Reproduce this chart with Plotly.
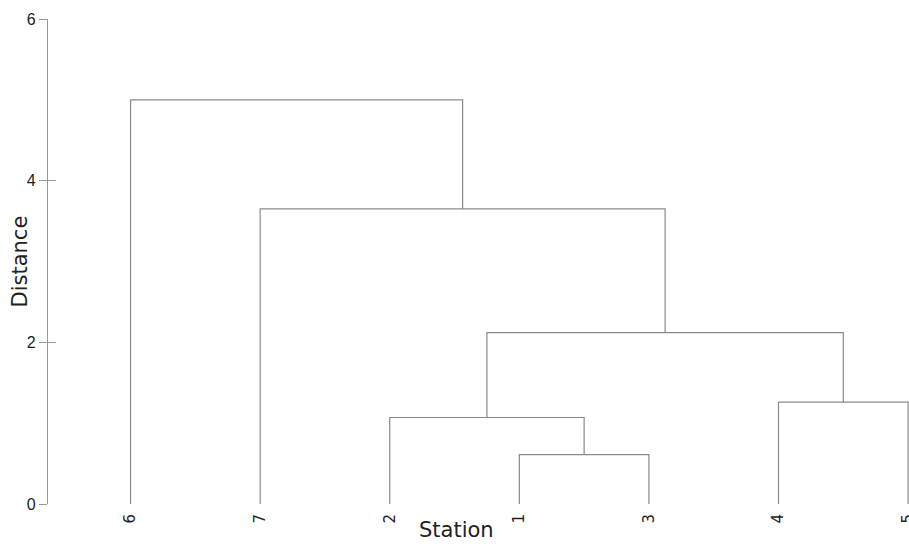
import plotly.graph_objects as go

# Leaves in display order
leaf_labels = ["6", "7", "2", "1", "3", "4", "5"]
# Merges: (left child, right child, height); children are leaf labels or merge ids "m0", "m1", ...
merge_left = ["1", "4", "2", "m2", "7", "6"]
merge_right = ["3", "5", "m0", "m1", "m3", "m4"]
merge_height = [0.61, 1.26, 1.07, 2.12, 3.65, 5.0]

y_ticks = [0, 2, 4, 6]

leaf_pos = {lab: i for i, lab in enumerate(leaf_labels)}
node_x = dict(leaf_pos)
node_y = {lab: 0.0 for lab in leaf_labels}

xs, ys = [], []
for k, (a, b, h) in enumerate(zip(merge_left, merge_right, merge_height)):
    xa, ya = node_x[a], node_y[a]
    xb, yb = node_x[b], node_y[b]
    xs += [xa, xa, xb, xb, None]
    ys += [ya, h, h, yb, None]
    node_x["m%d" % k] = (xa + xb) / 2
    node_y["m%d" % k] = h

line_color = "#8a8a8a"
text_color = "#222"

fig = go.Figure()
fig.add_trace(go.Scatter(x=xs, y=ys, mode="lines",
                         line=dict(color=line_color, width=1.2),
                         hoverinfo="skip", showlegend=False))
# invisible trace on overlaying axis for inside tick marks
fig.add_trace(go.Scatter(x=[0], y=[0], mode="markers", marker=dict(opacity=0),
                         yaxis="y2", hoverinfo="skip", showlegend=False))

fig.update_layout(
    width=909, height=544,
    margin=dict(l=48, r=0, t=19, b=40),
    paper_bgcolor="white", plot_bgcolor="white",
    font=dict(family="DejaVu Sans", color=text_color),
    xaxis=dict(
        range=[-0.637, 6.007],
        tickmode="array",
        tickvals=list(range(len(leaf_labels))),
        ticktext=leaf_labels,
        tickangle=-90,
        ticks="outside", ticklen=3, tickcolor="rgba(0,0,0,0)",
        showgrid=False, zeroline=False, showline=False,
        tickfont=dict(family="DejaVu Sans", size=15, color=text_color),
        ticklabeloverflow="allow",
        automargin=False,
    ),
    yaxis=dict(
        range=[0, 6],
        tickmode="array",
        tickvals=y_ticks,
        ticktext=[str(v) for v in y_ticks],
        ticks="outside", ticklen=8, tickcolor="#999", tickwidth=1,
        showline=True, linecolor="#999", linewidth=1.2,
        showgrid=False, zeroline=False,
        tickfont=dict(family="Liberation Sans", size=16, color=text_color),
        automargin=False,
    ),
    yaxis2=dict(
        range=[0, 6], overlaying="y", side="left",
        tickmode="array", tickvals=y_ticks, showticklabels=False,
        ticks="inside", ticklen=8, tickcolor="#999", tickwidth=1,
        showline=False, showgrid=False, zeroline=False,
    ),
    annotations=[
        dict(text="Station", xref="paper", yref="paper", x=0.475, y=-0.054,
             xanchor="center", yanchor="middle", showarrow=False,
             font=dict(family="DejaVu Sans", size=21, color=text_color)),
        dict(text="Distance", xref="paper", yref="paper", x=-(48 - 19) / 861, y=0.5,
             xanchor="center", yanchor="middle", showarrow=False, textangle=-90,
             font=dict(family="DejaVu Sans", size=21, color=text_color)),
    ],
)

fig.write_html("out.html", config={"displayModeBar": False},
               post_script="document.body.style.margin='0';document.body.style.overflow='hidden';")
